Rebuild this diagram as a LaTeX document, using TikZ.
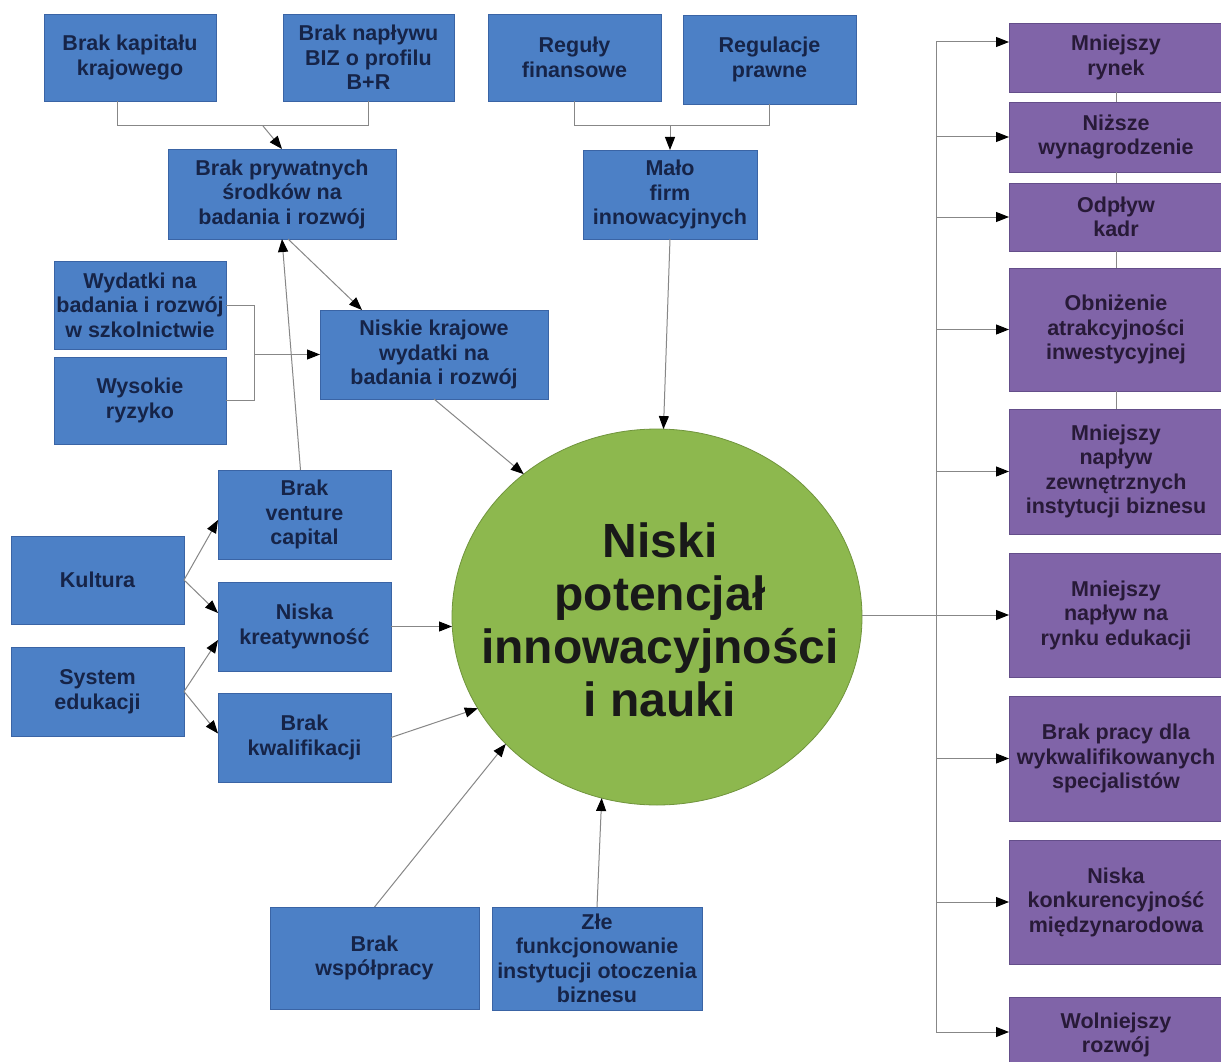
\documentclass[tikz,border=0pt]{standalone}
\usepackage{fontspec}
\setmainfont{Liberation Sans}
\usetikzlibrary{arrows.meta,shapes.geometric,calc}
\definecolor{boxblue}{RGB}{76,128,198}
\definecolor{boxblueline}{RGB}{58,100,165}
\definecolor{boxpurple}{RGB}{128,100,168}
\definecolor{boxpurpleline}{RGB}{100,78,138}
\definecolor{ellgreen}{RGB}{141,184,78}
\definecolor{ellline}{RGB}{112,148,60}
\definecolor{navytext}{RGB}{22,36,72}
\definecolor{purpletext}{RGB}{40,26,56}
\definecolor{connline}{RGB}{135,135,135}
\tikzset{
  bluebox/.style={rectangle, fill=boxblue, draw=boxblueline, line width=0.8pt,
    inner sep=0pt, outer sep=0pt, align=center, text=navytext,
    font=\bfseries\fontsize{21.5}{24.5}\selectfont},
  purplebox/.style={rectangle, fill=boxpurple, draw=boxpurpleline, line width=0.8pt,
    inner sep=0pt, outer sep=0pt, align=center, text=purpletext,
    minimum width=214pt, font=\bfseries\fontsize{21.5}{24.5}\selectfont},
  conn/.style={draw=connline, line width=1pt},
  arr/.style={conn, -{Triangle[length=13pt,width=10pt,black]}},
}
\begin{document}
\begin{tikzpicture}[x=1pt,y=-1pt]
\fill[white] (0,0) rectangle (1221,1062);
\useasboundingbox (0,0) rectangle (1221,1062);
\clip (0,0) rectangle (1221,1062);

% blue boxes
\node[bluebox, minimum width=172pt, minimum height=87pt] (kap) at (130,57.5) {Brak kapitału\\krajowego};
\node[bluebox, minimum width=171pt, minimum height=87pt] (biz) at (368.5,57.5) {Brak napływu\\BIZ o profilu\\B+R};
\node[bluebox, minimum width=173pt, minimum height=87pt] (reg) at (574.5,57.5) {Reguły\\finansowe};
\node[bluebox, minimum width=173pt, minimum height=89pt] (prawo) at (769.5,59.5) {Regulacje\\prawne};
\node[bluebox, minimum width=228pt, minimum height=90pt] (priv) at (282,194) {Brak prywatnych\\środków na\\badania i rozwój};
\node[bluebox, minimum width=174pt, minimum height=89pt] (malo) at (670,194.5) {Mało\\firm\\innowacyjnych};
\node[bluebox, minimum width=172pt, minimum height=88pt] (wyd) at (140,305) {Wydatki na\\badania i rozwój\\w szkolnictwie};
\node[bluebox, minimum width=172pt, minimum height=87pt] (ryz) at (140,400.5) {Wysokie\\ryzyko};
\node[bluebox, minimum width=228pt, minimum height=89pt] (niskie) at (434,354.5) {Niskie krajowe\\wydatki na\\badania i rozwój};
\node[bluebox, minimum width=173pt, minimum height=89pt] (ven) at (304.5,514.5) {Brak\\venture\\capital};
\node[bluebox, minimum width=173pt, minimum height=89pt] (niska) at (304.5,626.5) {Niska\\kreatywność};
\node[bluebox, minimum width=173pt, minimum height=89pt] (kwal) at (304.5,737.5) {Brak\\kwalifikacji};
\node[bluebox, minimum width=173pt, minimum height=88pt] (kul) at (97.5,580) {Kultura};
\node[bluebox, minimum width=173pt, minimum height=89pt] (sys) at (97.5,691.5) {System\\edukacji};
\node[bluebox, minimum width=209pt, minimum height=102pt] (wsp) at (374.5,958) {Brak\\współpracy};
\node[bluebox, minimum width=210pt, minimum height=103pt] (zle) at (597,958.5) {Złe\\funkcjonowanie\\instytucji otoczenia\\biznesu};

% central ellipse
\node[ellipse, fill=ellgreen, draw=ellline, line width=0.8pt, inner sep=0pt, outer sep=0pt,
      minimum width=410pt, minimum height=376pt] (E) at (657,617) {};
\node[align=center, font=\bfseries\fontsize{48}{53}\selectfont, text=black!90] (Etxt) at (660,620)
  {Niski\\potencjał\\innowacyjności\\i nauki};

% purple boxes
\node[purplebox, minimum height=69pt] (r1) at (1116,57.5) {Mniejszy\\rynek};
\node[purplebox, minimum height=70pt] (r2) at (1116,137) {Niższe\\wynagrodzenie};
\node[purplebox, minimum height=68pt] (r3) at (1116,217) {Odpływ\\kadr};
\node[purplebox, minimum height=123pt] (r4) at (1116,329.5) {Obniżenie\\atrakcyjności\\inwestycyjnej};
\node[purplebox, minimum height=125pt] (r5) at (1116,471.5) {Mniejszy\\napływ\\zewnętrznych\\instytucji biznesu};
\node[purplebox, minimum height=124pt] (r6) at (1116,615) {Mniejszy\\napływ na\\rynku edukacji};
\node[purplebox, minimum height=125pt] (r7) at (1116,758.5) {Brak pracy dla\\wykwalifikowanych\\specjalistów};
\node[purplebox, minimum height=124pt] (r8) at (1116,902) {Niska\\konkurencyjność\\międzynarodowa};
\node[purplebox, minimum height=76pt] (r9) at (1116,1035) {Wolniejszy\\rozwój};

% top brackets
\draw[conn] ($(kap.south)+(-13,0)$) -- ++(0,25) -| (biz.south);
\coordinate (j1) at (263,126);
\draw[arr] (j1) -- (priv.north);
\draw[conn] (reg.south) -- ++(0,25) -| (prawo.south);
\coordinate (j2) at (670,126);
\draw[arr] (j2) -- (malo.north);

% Wydatki / Wysokie ryzyko bracket
\draw[conn] (wyd.east) -- ++(28,0) |- (ryz.east);
\coordinate (j3) at (254,354.5);
\draw[arr] (j3) -- (niskie.west);

% left side connectors
\draw[arr] ($(ven.north)+(-4,0)$) -- (priv.south);
\draw[arr] ($(priv.south)+(6,0)$) -- ($(niskie.north)+(-72,0)$);
\draw[arr] (niskie.south) -- (E.133);
\draw[arr] (malo.south) -- (E);
\draw[arr] (kul.east) -- ($(ven.west)+(0,5.5)$);
\draw[arr] (kul.east) -- ($(niska.west)+(0,-13.5)$);
\draw[arr] (sys.east) -- ($(niska.west)+(0,13.5)$);
\draw[arr] (sys.east) -- ($(kwal.west)+(0,-4)$);
\draw[arr] (niska.east) -- (niska.east -| E.west);
\draw[arr] (kwal.east) -- (E.207);
\draw[arr] (wsp.north) -- (E.220);
\draw[arr] (zle.north) -- (E.253);

% right side bus
\coordinate (bt) at (936,42);
\coordinate (bb) at (936,1032);
\draw[conn] (bt) -- (bb);
\draw[arr] (bt) -- (bt -| r1.west);
\draw[arr] (r2.west -| bt) -- (r2.west);
\draw[arr] (r3.west -| bt) -- (r3.west);
\draw[arr] (r4.west -| bt) -- (r4.west);
\draw[arr] (r5.west -| bt) -- (r5.west);
\draw[arr] (E.east |- r6.west) -- (r6.west);
\draw[arr] (r7.west -| bt) -- (r7.west);
\draw[arr] (r8.west -| bt) -- (r8.west);
\draw[arr] (bb) -- (bb -| r9.west);

% links between purple boxes
\draw[conn] (r1.south) -- (r2.north);
\draw[conn] (r2.south) -- (r3.north);
\draw[conn] (r3.south) -- (r4.north);
\draw[conn] (r4.south) -- (r5.north);
\end{tikzpicture}
\end{document}
